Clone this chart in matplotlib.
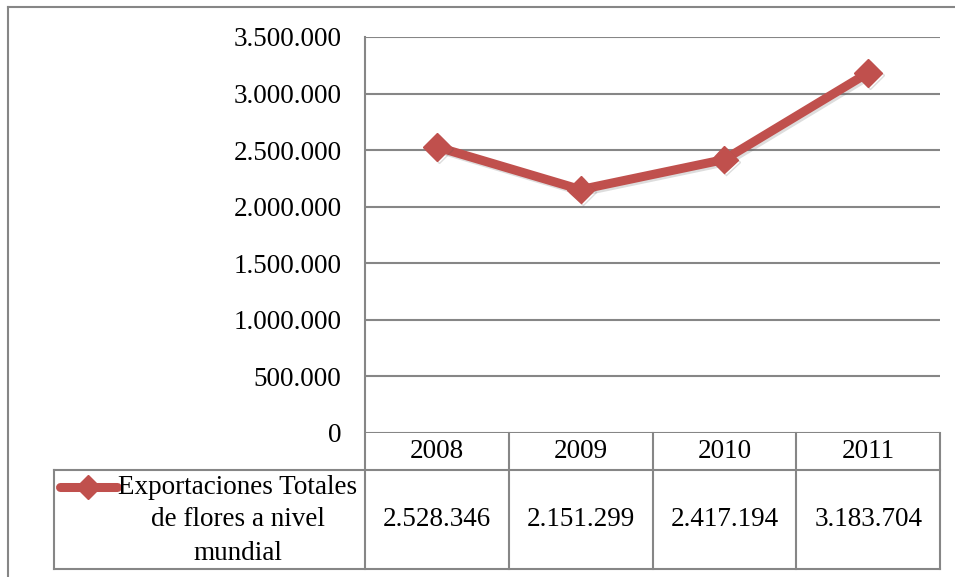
import matplotlib
matplotlib.use("Agg")
import matplotlib.pyplot as plt
import matplotlib.patheffects as pe
from matplotlib.lines import Line2D
from matplotlib.ticker import FuncFormatter
import numpy as np

years = ["2008", "2009", "2010", "2011"]
exports = [2528346, 2151299, 2417194, 3183704]
series_label = ["Exportaciones Totales", "de flores a nivel", "mundial"]
y_ticks = [0, 500000, 1000000, 1500000, 2000000, 2500000, 3000000, 3500000]

W, H = 955, 577
RED = "#C0504D"
GRID = "#868686"
plt.rcParams['font.family'] = ['Liberation Serif', 'DejaVu Serif']
FS = 19.5


def fx(px):
    return px / W


def fy(py):
    return 1 - py / H


def dots(v, pos=None):
    # thousands separated with dots
    return f"{int(v):,}".replace(",", ".")


fig = plt.figure(figsize=(W / 100, H / 100), dpi=100)

# plot area
x0, x1, y0, y1 = 365, 940, 37, 433
ax = fig.add_axes([fx(x0), fy(y1), fx(x1 - x0), (y1 - y0) / H])
ax.set_xlim(0, len(years))
ax.set_ylim(0, 3500000)
ax.set_yticks(y_ticks)
ax.yaxis.set_major_formatter(FuncFormatter(dots))
ax.set_xticks([])
ax.tick_params(axis='y', length=0, pad=17, labelsize=FS)
for s in ["top", "right", "bottom", "left"]:
    ax.spines[s].set_visible(False)
ax.yaxis.grid(True, color=GRID, linewidth=1.5)
ax.set_axisbelow(True)

xs = np.arange(len(years)) + 0.5
shadow = [pe.SimpleLineShadow(offset=(1.5, -1.5), alpha=0.2, shadow_color="#555555"), pe.Normal()]
ax.plot(xs, exports, color=RED, linewidth=6.5, marker='D', markersize=14,
        markerfacecolor=RED, markeredgecolor=RED, solid_capstyle='round',
        path_effects=shadow, zorder=3)


def fline(xa, ya, xb, yb, color=GRID, lw=1.5):
    fig.add_artist(Line2D([fx(xa), fx(xb)], [fy(ya), fy(yb)], color=color,
                          linewidth=lw, transform=fig.transFigure))


# outer chart border
fline(8, 7, 955, 7)
fline(8, 7, 8, 577)

# vertical axis line running through the table
fline(365, 37, 365, 569)

# data table
col_edges = np.linspace(365, 940, len(years) + 1)
row_top, row_mid, row_bot = 433, 470, 569
for cx in col_edges[1:]:
    fline(cx, row_top, cx, row_bot)
fline(54, row_mid, 940, row_mid)
fline(54, row_bot, 940, row_bot)
fline(54, row_mid, 54, row_bot)

for i, (yr, val) in enumerate(zip(years, exports)):
    cx = (col_edges[i] + col_edges[i + 1]) / 2
    fig.text(fx(cx), fy(452), yr, ha='center', va='center', fontsize=FS)
    fig.text(fx(cx), fy(520), dots(val), ha='center', va='center', fontsize=FS)

# series label with legend key
for j, line in enumerate(series_label):
    fig.text(fx(238), fy(487 + 33 * j), line, ha='center', va='center', fontsize=FS)
key_y = 487
fig.add_artist(Line2D([fx(60), fx(117)], [fy(key_y), fy(key_y)], color=RED,
                      linewidth=6.5, solid_capstyle='round', transform=fig.transFigure))
fig.add_artist(Line2D([fx(88)], [fy(key_y)], color=RED, marker='D', markersize=12,
                      transform=fig.transFigure))

fig.savefig("out.png", dpi=100)
